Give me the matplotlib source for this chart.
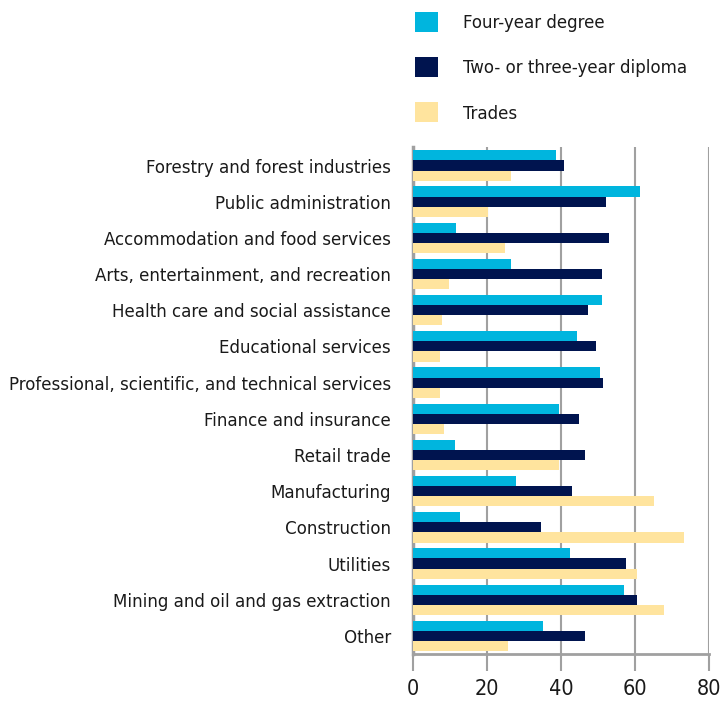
import matplotlib.pyplot as plt
import numpy as np
from matplotlib.patches import Patch

plt.rcParams['font.family'] = ['DejaVu Sans']
plt.rcParams['font.stretch'] = 'condensed'

categories = [
    'Forestry and forest industries',
    'Public administration',
    'Accommodation and food services',
    'Arts, entertainment, and recreation',
    'Health care and social assistance',
    'Educational services',
    'Professional, scientific, and technical services',
    'Finance and insurance',
    'Retail trade',
    'Manufacturing',
    'Construction',
    'Utilities',
    'Mining and oil and gas extraction',
    'Other',
]
four_year = [38.7, 61.4, 11.7, 26.6, 51.2, 44.4, 50.6, 39.5, 11.4, 27.9, 12.8, 42.5, 57.1, 35.2]
diploma = [40.9, 52.2, 53.1, 51.2, 47.4, 49.5, 51.4, 45.0, 46.6, 43.1, 34.7, 57.7, 60.6, 46.6]
trades = [26.6, 20.4, 25.0, 9.8, 7.9, 7.4, 7.4, 8.5, 39.5, 65.0, 73.3, 60.6, 67.9, 25.8]

series = ['Four-year degree', 'Two- or three-year diploma', 'Trades']
colors = ['#00B5DE', '#00144F', '#FFE49E']

fig = plt.figure(figsize=(7.22, 7.02), dpi=100)
ax = fig.add_axes([0.572, 0.0684, 0.41, 0.7216])

y = np.arange(len(categories))
h = 0.28
for i, (vals, c) in enumerate(zip([four_year, diploma, trades], colors)):
    ax.barh(y + (i - 1) * h, vals, height=h, color=c, zorder=3)

ax.set_ylim(len(categories) - 0.5, -0.5)
ax.set_xlim(0, 80)
ax.set_xticks([0, 20, 40, 60, 80])
ax.set_yticks(y)
ax.set_yticklabels(categories, fontsize=13.3, color='#1a1a1a')
ax.tick_params(axis='y', length=0, pad=16)
ax.tick_params(axis='x', length=12, width=1.5, color='#A0A0A0', labelsize=15.5,
               labelcolor='#1a1a1a', pad=6)
ax.grid(axis='x', color='#A0A0A0', linewidth=1.5, zorder=0)
for s in ['top', 'right']:
    ax.spines[s].set_visible(False)
ax.spines['left'].set_color('#A0A0A0')
ax.spines['left'].set_linewidth(2.5)
ax.spines['bottom'].set_color('#A0A0A0')
ax.spines['bottom'].set_linewidth(2)

handles = [Patch(facecolor=c, edgecolor='none') for c in colors]
leg = fig.legend(handles, series, loc='upper left', bbox_to_anchor=(0.5748, 0.983),
                 frameon=False, fontsize=13.3, handlelength=1.25, handleheight=1.3,
                 handletextpad=1.35, labelspacing=1.35, borderpad=0, borderaxespad=0)
for t in leg.get_texts():
    t.set_color('#1a1a1a')

fig.savefig('out.png', dpi=100)
